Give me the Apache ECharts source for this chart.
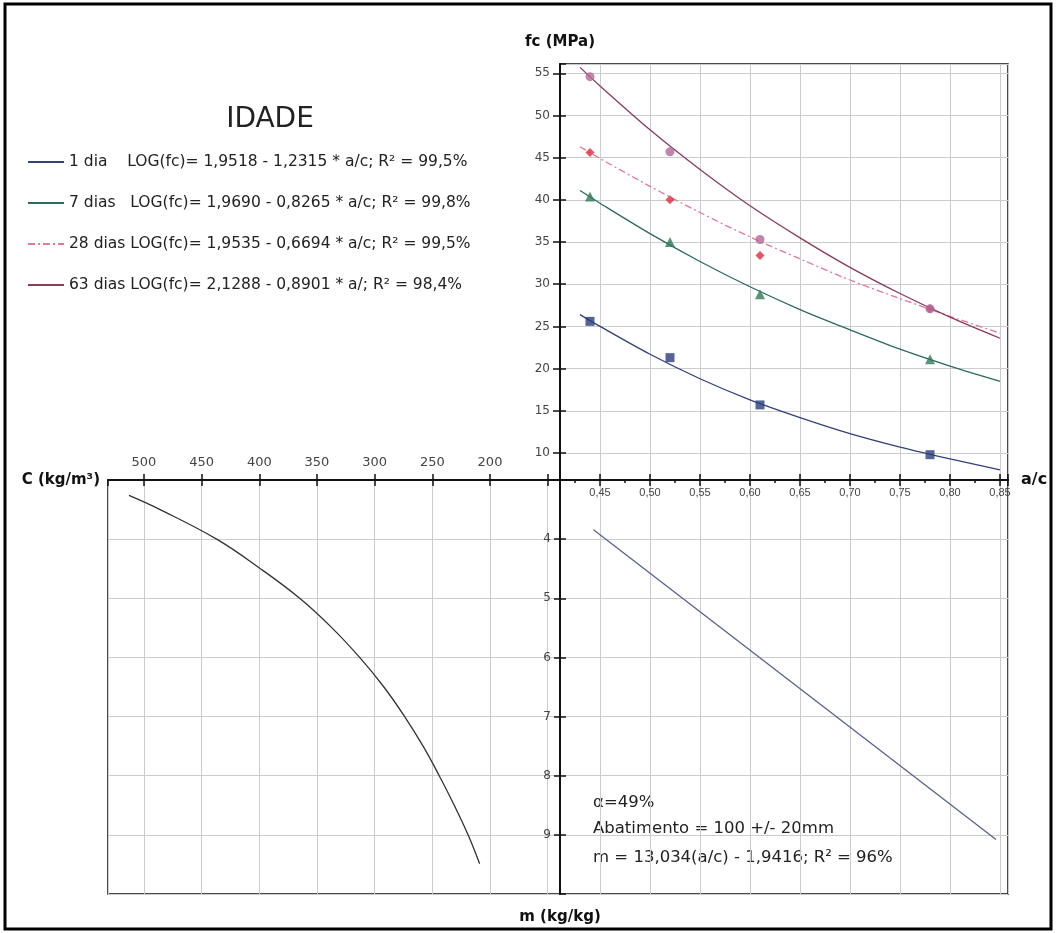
<!DOCTYPE html>
<html>
<head>
<meta charset="utf-8">
<script src="https://cdn.jsdelivr.net/npm/echarts@6/dist/echarts.min.js"></script>
<style>
  html, body { margin: 0; padding: 0; background: #fff; }
  #main { width: 1056px; height: 933px; }
</style>
</head>
<body>
<div id="main"></div>
<script>
// curvas de ajuste fc x a/c
var acFit = [0.43, 0.45, 0.50, 0.55, 0.60, 0.65, 0.70, 0.75, 0.80, 0.85];
var fit1 = [26.4, 25.0, 21.7, 18.8, 16.3, 14.2, 12.3, 10.7, 9.3, 8.0];
var fit7 = [41.1, 39.6, 36.0, 32.7, 29.7, 27.0, 24.6, 22.3, 20.3, 18.5];
var fit28 = [46.3, 44.9, 41.6, 38.5, 35.6, 33.0, 30.5, 28.3, 26.2, 24.2];
var fit63 = [55.7, 53.5, 48.3, 43.6, 39.3, 35.5, 32.0, 28.9, 26.1, 23.6];

// pontos ensaiados
var acPts = [0.44, 0.52, 0.61, 0.78];
var pts1 = [25.6, 21.3, 15.7, 9.8];
var pts7 = [40.4, 35.0, 28.8, 21.1];
var pts28 = [45.6, 40.0, 33.4, 27.1];
var pts63 = [54.6, 45.7, 35.3, 27.1];

// m x a/c (quadrante inferior direito)
var acM = [0.4435, 0.846];
var mLine = [3.84, 9.08];

// C x m (quadrante inferior esquerdo)
var cimM = [3.26, 3.5, 4.0, 4.5, 5.0, 5.5, 6.0, 6.5, 7.0, 7.5, 8.0, 8.5, 9.0, 9.49];
var cimC = [513, 486, 437, 399, 365, 337, 313, 292, 274, 258, 244, 231, 219, 209];

var idades = ['1 dia', '7 dias', '28 dias', '63 dias'];
var equacoes = [
  '1 dia    LOG(fc)= 1,9518 - 1,2315 * a/c; R² = 99,5%',
  '7 dias   LOG(fc)= 1,9690 - 0,8265 * a/c; R² = 99,8%',
  '28 dias LOG(fc)= 1,9535 - 0,6694 * a/c; R² = 99,5%',
  '63 dias LOG(fc)= 2,1288 - 0,8901 * a/; R² = 98,4%'
];

var fonte = 'DejaVu Sans';
var preto = '#111';
var grade = '#cccccc';
var corLinha = ['#33407a', '#2c6a60', '#e27a92', '#8a3a5c'];
var corPonto = ['#2a3d7c', '#2e7a55', '#e4283c', '#b0689a'];
var simbolo = ['rect', 'triangle', 'diamond', 'circle'];
var tipoLinha = ['solid', 'solid', [7, 3, 2, 3], 'solid'];

function pares(xs, ys) {
  return xs.map(function (x, i) { return [x, ys[i]]; });
}
function virgula(v) {
  return v.toFixed(2).replace('.', ',');
}

var chart = echarts.init(document.getElementById('main'));

var fits = [fit1, fit7, fit28, fit63];
var pts = [pts1, pts7, pts28, pts63];
var series = [];
fits.forEach(function (f, i) {
  series.push({
    type: 'line', name: idades[i], xAxisIndex: 0, yAxisIndex: 0,
    data: pares(acFit, f), smooth: 0.3, symbol: 'none',
    lineStyle: { color: corLinha[i], width: 1.3, type: tipoLinha[i] },
    itemStyle: { color: corLinha[i] }, z: 2
  });
});
pts.forEach(function (p, i) {
  series.push({
    type: 'scatter', name: idades[i] + ' ensaio', xAxisIndex: 0, yAxisIndex: 0,
    data: pares(acPts, p), symbol: simbolo[i], symbolSize: i === 1 ? 10 : 9,
    itemStyle: { color: corPonto[i] }, z: 3
  });
});
series.push({
  type: 'line', name: 'm', xAxisIndex: 1, yAxisIndex: 2,
  data: pares(acM, mLine), symbol: 'none',
  lineStyle: { color: '#55628f', width: 1.3 }
});
series.push({
  type: 'line', name: 'C', xAxisIndex: 2, yAxisIndex: 3,
  data: pares(cimC, cimM), smooth: 0.4, symbol: 'none',
  lineStyle: { color: '#333', width: 1.3 }
});

var linhaEixo = { onZero: false, lineStyle: { color: preto, width: 2 } };
var semLinha = { show: false, onZero: false };
var divisao = { show: true, lineStyle: { color: grade, width: 1 } };
var rotulo = { fontFamily: fonte, fontSize: 12, color: '#444', showMinLabel: false, showMaxLabel: false };
var nomeEixo = { fontFamily: fonte, fontWeight: 'bold', fontSize: 15, color: preto };

var option = {
  backgroundColor: '#fff',
  animation: false,
  grid: [
    { left: 560, top: 64, width: 448, height: 416, show: true, borderColor: preto, borderWidth: 1.5, containLabel: false, outerBoundsMode: 'none' },
    { left: 108, top: 480, width: 452, height: 414, show: true, borderColor: preto, borderWidth: 1.5, containLabel: false, outerBoundsMode: 'none' },
    { left: 560, top: 480, width: 448, height: 414, show: true, borderColor: preto, borderWidth: 1.5, containLabel: false, outerBoundsMode: 'none' }
  ],
  legend: {
    data: idades, orient: 'vertical', left: 22, top: 149,
    itemWidth: 36, itemHeight: 16, itemGap: 25, selectedMode: false,
    itemStyle: { color: 'transparent', borderColor: 'transparent', borderWidth: 0, opacity: 0 },
    textStyle: { fontFamily: fonte, fontSize: 15.5, color: '#222', lineHeight: 16 },
    formatter: function (n) { return equacoes[idades.indexOf(n)]; }
  },
  xAxis: [
    { // a/c - quadrante superior
      type: 'value', gridIndex: 0, position: 'bottom',
      min: 0.41, max: 0.858, minInterval: 0.05, maxInterval: 0.05,
      name: 'a/c', nameLocation: 'end', nameGap: 13,
      nameTextStyle: Object.assign({}, nomeEixo, { fontSize: 16 }),
      axisLine: linhaEixo,
      axisTick: { inside: false, length: 6, lineStyle: { color: preto, width: 1.5 } },
      minorTick: { show: true, splitNumber: 2, length: 3, lineStyle: { color: preto, width: 1.5 } },
      axisLabel: Object.assign({}, rotulo, { fontFamily: 'Liberation Sans', fontSize: 11, margin: 7, formatter: virgula }),
      splitLine: divisao
    },
    { // a/c - quadrante inferior direito
      type: 'value', gridIndex: 2, position: 'top',
      min: 0.41, max: 0.858, minInterval: 0.05, maxInterval: 0.05,
      axisLine: linhaEixo,
      axisTick: { inside: false, length: 6, lineStyle: { color: preto, width: 1.5 } },
      axisLabel: { show: false },
      splitLine: divisao
    },
    { // C (kg/m3)
      type: 'value', gridIndex: 1, position: 'top', inverse: true,
      min: 139.3, max: 531.2, minInterval: 50, maxInterval: 50,
      name: 'C (kg/m³)', nameLocation: 'end', nameGap: 8, nameTextStyle: nomeEixo,
      axisLine: linhaEixo,
      axisTick: { inside: false, length: 6, lineStyle: { color: preto, width: 1.5 } },
      axisLabel: Object.assign({}, rotulo, {
        fontSize: 13, margin: 11,
        formatter: function (v) { return v >= 200 ? String(v) : ''; }
      }),
      splitLine: divisao
    },
    { // C - marcas internas
      type: 'value', gridIndex: 1, position: 'top', inverse: true,
      min: 139.3, max: 531.2, minInterval: 50, maxInterval: 50,
      axisLine: semLinha,
      axisTick: { inside: true, length: 6, lineStyle: { color: preto, width: 1.5 } },
      axisLabel: { show: false }, splitLine: { show: false }
    }
  ],
  yAxis: [
    { // fc (MPa)
      type: 'value', gridIndex: 0, position: 'left',
      min: 6.8, max: 56.1, minInterval: 5, maxInterval: 5,
      name: 'fc (MPa)', nameLocation: 'end', nameGap: 14, nameTextStyle: nomeEixo,
      axisLine: linhaEixo,
      axisTick: { inside: false, length: 7, lineStyle: { color: preto, width: 1.5 } },
      axisLabel: Object.assign({}, rotulo, { margin: 10 }),
      splitLine: divisao
    },
    { // fc - marcas internas
      type: 'value', gridIndex: 0, position: 'left',
      min: 6.8, max: 56.1, minInterval: 5, maxInterval: 5,
      axisLine: semLinha,
      axisTick: { inside: true, length: 6, lineStyle: { color: preto, width: 1.5 } },
      axisLabel: { show: false }, splitLine: { show: false }
    },
    { // m (kg/kg) - direita
      type: 'value', gridIndex: 2, position: 'left', inverse: true,
      min: 3, max: 10, interval: 1,
      name: 'm (kg/kg)', nameLocation: 'end', nameGap: 16, nameTextStyle: nomeEixo,
      axisLine: linhaEixo,
      axisTick: { inside: false, length: 6, lineStyle: { color: preto, width: 1.5 } },
      axisLabel: Object.assign({}, rotulo, { margin: 9 }),
      splitLine: divisao
    },
    { // m - esquerda
      type: 'value', gridIndex: 1, position: 'right', inverse: true,
      min: 3, max: 10, interval: 1,
      axisLine: linhaEixo,
      axisTick: { inside: false, length: 6, lineStyle: { color: preto, width: 1.5 } },
      axisLabel: { show: false },
      splitLine: divisao
    }
  ],
  graphic: [
    { type: 'rect', silent: true, shape: { x: 5, y: 4, width: 1046, height: 925 },
      style: { fill: 'transparent', stroke: '#000', lineWidth: 3 } },
    { type: 'text', silent: true, x: 270, y: 120,
      style: { text: 'IDADE', fontFamily: fonte, fontSize: 28, fill: '#222', align: 'center', verticalAlign: 'middle' } },
    { type: 'text', silent: true, x: 593, y: 803,
      style: { text: 'α=49%', fontFamily: fonte, fontSize: 16.5, fill: '#222', verticalAlign: 'middle' } },
    { type: 'text', silent: true, x: 593, y: 829,
      style: { text: 'Abatimento = 100 +/- 20mm', fontFamily: fonte, fontSize: 16.5, fill: '#222', verticalAlign: 'middle' } },
    { type: 'text', silent: true, x: 593, y: 858,
      style: { text: 'm = 13,034(a/c) - 1,9416; R² = 96%', fontFamily: fonte, fontSize: 16.5, fill: '#222', verticalAlign: 'middle' } }
  ],
  series: series
};

chart.setOption(option);
</script>
</body>
</html>
